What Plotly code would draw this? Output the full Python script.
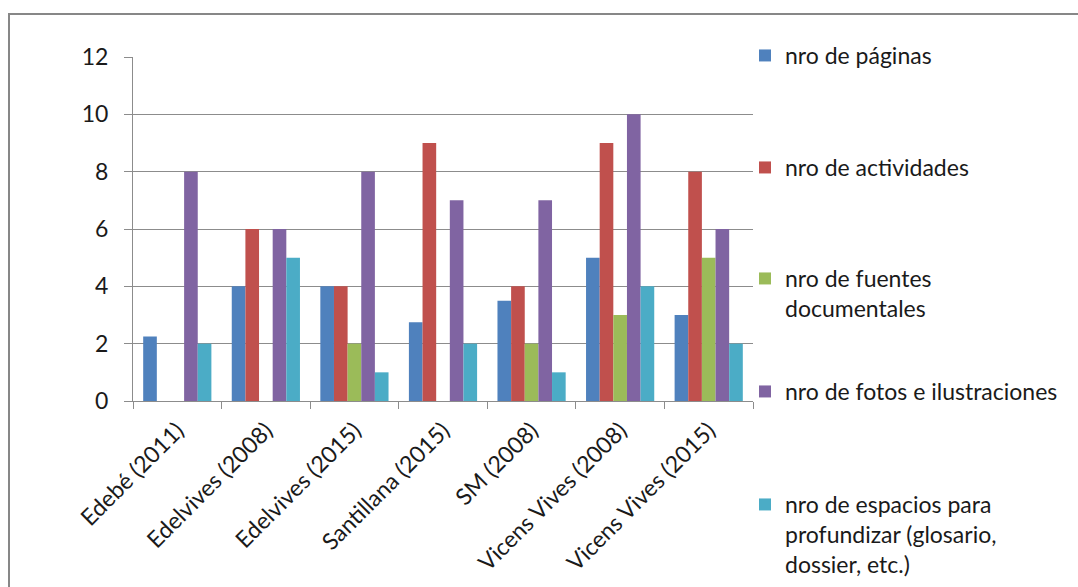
import plotly.graph_objects as go

categories = ["Edebé (2011)", "Edelvives (2008)", "Edelvives (2015)", "Santillana (2015)",
              "SM (2008)", "Vicens Vives (2008)", "Vicens Vives (2015)"]
series_names = ["nro de páginas", "nro de actividades", "nro de fuentes<br>documentales",
                "nro de fotos e ilustraciones",
                "nro de espacios para<br>profundizar (glosario,<br>dossier, etc.)"]
paginas = [2.25, 4, 4, 2.75, 3.5, 5, 3]
actividades = [0, 6, 4, 9, 4, 9, 8]
fuentes = [0, 0, 2, 0, 2, 3, 5]
fotos = [8, 6, 8, 7, 7, 10, 6]
espacios = [2, 5, 1, 2, 1, 4, 2]
y_ticks = [0, 2, 4, 6, 8, 10, 12]

series_values = [paginas, actividades, fuentes, fotos, espacios]
colors = ["#4F81BD", "#C0504D", "#9BBB59", "#8064A2", "#4BACC6"]

W, H = 1078, 587
L, R, T, B = 133, 753, 57, 401  # plot area pixel box

FONT = "Lato, 'Open Sans', sans-serif"
FS = 23
TXT = "#1a1a1a"
GRID = "#8c8c8c"

fig = go.Figure()
legend_y_px = [55, 167, 278, 391, 504]
legend_names = ["legend", "legend2", "legend3", "legend4", "legend5"]
for i, (name, vals, col) in enumerate(zip(series_names, series_values, colors)):
    fig.add_trace(go.Bar(
        x=categories, y=vals, name=name,
        marker=dict(color=col, line=dict(width=0)),
        legend=legend_names[i],
    ))

def px_x(p):
    return (p - L) / (R - L)

def px_y(p):
    return (B - p) / (B - T)

legends = {}
for i, ln in enumerate(legend_names):
    legends[ln] = dict(
        x=px_x(745), xanchor="left",
        y=px_y(legend_y_px[i] - 21), yanchor="top",
        font=dict(family=FONT, size=FS, color=TXT),
        bgcolor="rgba(0,0,0,0)", borderwidth=0,
        valign="top", itemclick=False, itemdoubleclick=False,
    )

fig.update_layout(
    width=W, height=H,
    margin=dict(l=L, r=W - R, t=T, b=H - B, pad=0, autoexpand=False),
    paper_bgcolor="white", plot_bgcolor="white",
    barmode="group", bargap=0.23, bargroupgap=0,
    showlegend=True,
    font=dict(family=FONT, size=FS, color=TXT),
    xaxis=dict(
        type="category", tickson="boundaries", ticks="outside", ticklen=7,
        tickcolor=GRID, tickwidth=1, showgrid=False, automargin=False,
        showline=True, linecolor=GRID, linewidth=1,
        tickangle=-45, tickfont=dict(family=FONT, size=FS, color=TXT),
        ticklabelstandoff=6,
    ),
    yaxis=dict(
        range=[0, 12], tickvals=y_ticks, ticktext=[str(v) for v in y_ticks],
        ticks="outside", ticklen=8, tickcolor=GRID, tickwidth=1, automargin=False,
        showgrid=True, gridcolor=GRID, gridwidth=1,
        showline=True, linecolor=GRID, linewidth=1, zeroline=False,
        tickfont=dict(family=FONT, size=FS, color=TXT),
        ticklabelstandoff=11,
    ),
    shapes=[dict(
        type="rect", xref="paper", yref="paper",
        x0=px_x(9), x1=px_x(W + 20), y0=px_y(H + 20), y1=px_y(14),
        line=dict(color="#878787", width=2), fillcolor="rgba(0,0,0,0)", layer="below",
    )],
    **legends,
)

fig.write_html("out.html")
